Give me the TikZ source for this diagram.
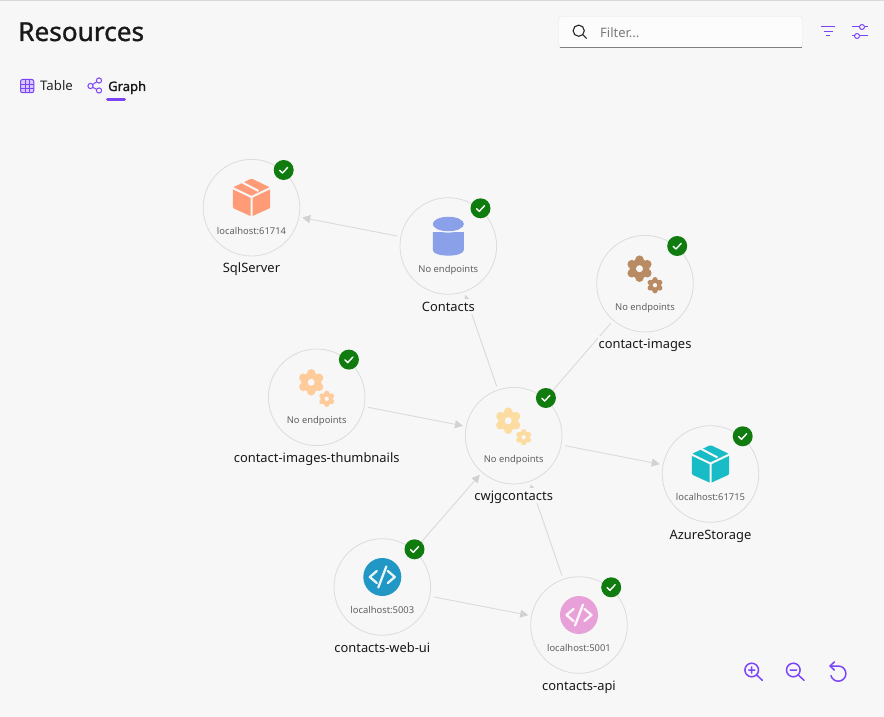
\documentclass[tikz,border=0pt]{standalone}
\usepackage{fontspec}
\setmainfont{Noto Sans}
\newfontfamily\titlefont[FakeBold=1.2]{Noto Sans}
\newfontfamily\tabfont[FakeBold=1.6]{Noto Sans}
\usetikzlibrary{calc,arrows.meta}
\definecolor{pagebg}{HTML}{F7F7F7}
\definecolor{accent}{HTML}{7A45F8}
\definecolor{okgreen}{HTML}{107C10}
\definecolor{edgegray}{HTML}{DADADA}
\definecolor{tipgray}{HTML}{D2D2D2}
\definecolor{ringgray}{HTML}{DCDCDC}
\definecolor{boxsql}{HTML}{FF9B77}
\definecolor{boxazure}{HTML}{18BCC6}
\definecolor{dbblue}{HTML}{8AA0E8}
\definecolor{gearbrown}{HTML}{B98B63}
\definecolor{gearpeach}{HTML}{FFCB9A}
\definecolor{gearyellow}{HTML}{FCDCA0}
\definecolor{codeblue}{HTML}{2097C4}
\definecolor{codepink}{HTML}{E8A0D8}
\newcommand{\gearwheel}[4]{%
  \fill[#4] (#1,#2) circle (0.76*#3 pt);
  \foreach \a in {30,90,...,330}
    \fill[#4] ($(#1,#2)+(\a:0.69*#3 pt)$) circle (0.33*#3 pt);
  \fill[pagebg] (#1,#2) circle (0.27*#3 pt);
}
\tikzset{%
  resnode/.style={draw=ringgray,line width=0.8pt,shape=circle,inner sep=0,minimum size=96.6pt},
  okdot/.style={shape=circle,fill=okgreen,inner sep=0,minimum size=20pt},
  redge/.style={draw=edgegray,line width=0.9pt,shorten <=3.5pt,shorten >=3pt,-{Triangle[length=8pt,width=8pt,color=tipgray]}},
  urltext/.style={anchor=base,text=black!62,font=\fontsize{9.4}{11}\selectfont},
  restext/.style={anchor=base,text=black!90,font=\fontsize{12.9}{15}\selectfont,fill=pagebg,
    text height=11.3pt,text depth=1.5pt,inner xsep=1pt,inner ysep=1pt},
  accline/.style={draw=accent,line width=1pt},
  pics/boxicon/.style={code={
    \fill[#1,rounded corners=1.2pt] (0,-19) -- (18.7,-10) -- (18.7,10.5) -- (0,19) -- (-18.7,10.5) -- (-18.7,-10) -- cycle;
    \draw[pagebg,line width=2pt] (-20,-10) -- (0,-0.5) -- (20,-10) (0,-0.5) -- (0,20) (-10,-15.5) -- (7,-6.5);
  }},
  pics/dbicon/.style={code={
    \fill[#1] (-15.5,-4) -- (-15.5,14) .. controls (-15.5,21.5) and (15.5,21.5) .. (15.5,14) -- (15.5,-4) -- cycle;
    \draw[pagebg,line width=1.6pt,fill=#1] (0,-12) ellipse (16.2pt and 7.8pt);
    \fill[#1] (0,-12) ellipse (15.5pt and 7.2pt);
  }},
  pics/gearicon/.style={code={
    \gearwheel{-5.5}{-15}{13}{#1}
    \gearwheel{10}{1.5}{8}{#1}
  }},
  pics/codeicon/.style={code={
    \fill[#1] (0,0) circle (19pt);
    \draw[white!90!#1,line width=2.3pt,line cap=round,line join=round]
      (-5.5,-6) -- (-12.5,0) -- (-5.5,6) (5.5,-6) -- (12.5,0) -- (5.5,6) (4,-10.5) -- (-4,10.5);
  }}
}
\begin{document}
\begin{tikzpicture}[x=1pt,y=-1pt]
  \useasboundingbox (0,0) rectangle (884,717);
  \fill[pagebg] (0,0) rectangle (884,717);
  \fill[black!15] (0,0) rectangle (884,1.5);
  % header
  \node (title)[anchor=base west,inner sep=0,text=black!90,font=\fontsize{26.2}{30}\titlefont] at (18,41) {Resources};
  \draw[draw=black!10,fill=white!60!pagebg,rounded corners=3pt] (558.5,16.5) rectangle (802.5,47.5);
  \draw[black!50,line width=1pt] (559.5,47.3) -- (801.5,47.3);
  \draw[black!85,line width=1.1pt] (578.7,30.7) circle (5.6pt) (582.7,34.7) -- (586.7,38.5);
  \node (filter)[anchor=west,inner sep=0,text=black!52,font=\fontsize{13}{15}\selectfont] at (600,33) {Filter...};
  \draw[accline] (821,27) -- (835,27) (823.5,31.3) -- (832.5,31.3) (825.8,35.5) -- (830.2,35.5);
  \draw[accline] (852,27) -- (859.5,27) (864.5,27) -- (868,27) (852,36) -- (854.5,36) (859.5,36) -- (868,36);
  \draw[accline] (862,27) circle (2.5pt) (857,36) circle (2.5pt);
  % tabs
  \draw[accline,fill=accent!30,rounded corners=2pt] (20.5,79.5) rectangle (33.8,92.7);
  \draw[accent,line width=0.8pt] (25,79.5) -- (25,92.7) (29.4,79.5) -- (29.4,92.7) (20.5,84) -- (33.8,84) (20.5,88.3) -- (33.8,88.3);
  \node (table)[anchor=base west,inner sep=0,text=black!85,font=\fontsize{13.2}{15}\selectfont] at (40,91) {Table};
  \draw[accline] (90.5,86) -- (98.5,80.5) (90.5,86) -- (98.5,90.5);
  \draw[accline,fill=pagebg] (90.5,86) circle (2.6pt) (99,80.5) circle (2.6pt) (99,90.5) circle (2.6pt);
  \node (graph)[anchor=base west,inner sep=0,text=black!90,font=\fontsize{13}{15}\tabfont] at (108,91) {Graph};
  \draw[accent,line width=3pt,line cap=round] (107.5,99.3) -- (124.5,99.3);
  % resources
  \path
    (251.5,207.7) node (sql)[resnode]{}
    (448.3,246) node (contacts)[resnode]{}
    (645,283.7) node (images)[resnode]{}
    (316.7,397.3) node (thumbs)[resnode]{}
    (513.7,435.7) node (cwjg)[resnode]{}
    (710.5,474) node (azure)[resnode]{}
    (382.3,587) node (webui)[resnode]{}
    (579,625) node (api)[resnode]{};
  \draw[redge] (contacts) -- (sql);
  \draw[redge] (cwjg) -- (contacts);
  \draw[redge] (images) -- (cwjg);
  \draw[redge] (thumbs) -- (cwjg);
  \draw[redge] (cwjg) -- (azure);
  \draw[redge] (webui) -- (cwjg);
  \draw[redge] (webui) -- (api);
  \draw[redge] (api) -- (cwjg);
  % icons
  \pic at ($(sql)+(0,-10.2)$) {boxicon=boxsql};
  \pic at ($(azure)+(0,-10)$) {boxicon=boxazure};
  \pic at ($(contacts)+(0,-10)$) {dbicon=dbblue};
  \pic at (images) {gearicon=gearbrown};
  \pic at (thumbs) {gearicon=gearpeach};
  \pic at (cwjg) {gearicon=gearyellow};
  \pic at ($(webui)+(0,-10)$) {codeicon=codeblue};
  \pic at ($(api)+(0,-10)$) {codeicon=codepink};
  % texts and status
  \foreach \n/\u/\t in {sql/localhost:61714/SqlServer,contacts/No endpoints/Contacts,
      images/No endpoints/contact-images,thumbs/No endpoints/contact-images-thumbnails,
      cwjg/No endpoints/cwjgcontacts,azure/localhost:61715/AzureStorage,
      webui/localhost:5003/contacts-web-ui,api/localhost:5001/contacts-api}{
    \node (\n url)[urltext] at ($(\n)+(0,26.5)$) {\u};
    \node (\n name)[restext] at ($(\n)+(0,65)$) {\t};
    \node (\n ok)[okdot] at ($(\n)+(32.2,-37.7)$) {};
    \draw[white,line width=1.4pt,line cap=round,line join=round]
      ($(\n ok)+(-4,0.3)$) -- ($(\n ok)+(-1.2,3)$) -- ($(\n ok)+(4,-2.6)$);
  }
  % zoom controls
  \draw[accent,line width=1.5pt,line cap=round] (751.7,670) circle (6.8pt) (756.7,675) -- (762.3,680.3)
    (748.5,670) -- (754.9,670) (751.7,666.8) -- (751.7,673.2);
  \draw[accent,line width=1.5pt,line cap=round] (793.3,670) circle (6.8pt) (798.3,675) -- (804,680.3)
    (790.1,670) -- (796.5,670);
  \draw[accent,line width=1.5pt,line cap=round,line join=round] (830,666) -- (838.3,666) arc (90:-165:7.6pt)
    (834.3,662) -- (830,666) -- (834.3,670);
\end{tikzpicture}
\end{document}
